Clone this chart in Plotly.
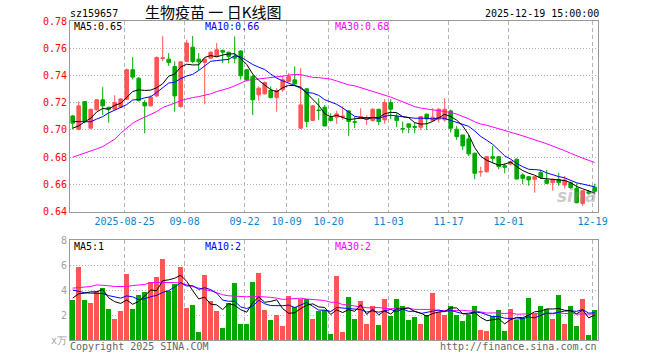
import pandas as pd
import plotly.graph_objects as go

# ---------------- data ----------------
dates = [d.strftime("%Y-%m-%d") for d in pd.bdate_range("2025-08-12", "2025-12-19")
         if not ("2025-10-01" <= d.strftime("%Y-%m-%d") <= "2025-10-08")]

opens = [0.7103, 0.7005, 0.7209, 0.7013, 0.7148, 0.7221, 0.7167, 0.7152, 0.7167, 0.7226,
         0.7442, 0.7380, 0.7201, 0.7177, 0.7250, 0.7525, 0.7520, 0.7466, 0.7172, 0.7503,
         0.7608, 0.7520, 0.7496, 0.7527, 0.7540, 0.7584, 0.7571, 0.7540, 0.7580, 0.7442,
         0.7393, 0.7258, 0.7265, 0.7290, 0.7238, 0.7295, 0.7356, 0.7368, 0.7013, 0.7302,
         0.7070, 0.7147, 0.7167, 0.7094, 0.7094, 0.7094, 0.7140, 0.7060, 0.7084, 0.7077,
         0.7069, 0.7152, 0.7074, 0.7201, 0.7098, 0.7010, 0.7045, 0.7025, 0.7020, 0.7116,
         0.7069, 0.7079, 0.7074, 0.7140, 0.7005, 0.6963, 0.6934, 0.6829, 0.6692, 0.6694,
         0.6804, 0.6804, 0.6738, 0.6750, 0.6785, 0.6670, 0.6657, 0.6638, 0.6687, 0.6633,
         0.6613, 0.6637, 0.6596, 0.6613, 0.6572, 0.6461, 0.6547, 0.6580]
highs = [0.7110, 0.7209, 0.7212, 0.7157, 0.7228, 0.7314, 0.7170, 0.7255, 0.7233, 0.7451,
         0.7535, 0.7388, 0.7220, 0.7255, 0.7540, 0.7690, 0.7564, 0.7503, 0.7505, 0.7662,
         0.7690, 0.7564, 0.7530, 0.7577, 0.7638, 0.7590, 0.7575, 0.7687, 0.7585, 0.7445,
         0.7405, 0.7320, 0.7356, 0.7320, 0.7307, 0.7398, 0.7417, 0.7466, 0.7454, 0.7307,
         0.7184, 0.7233, 0.7184, 0.7123, 0.7140, 0.7172, 0.7145, 0.7098, 0.7160, 0.7109,
         0.7160, 0.7155, 0.7226, 0.7226, 0.7123, 0.7062, 0.7045, 0.7054, 0.7103, 0.7120,
         0.7160, 0.7160, 0.7233, 0.7150, 0.7030, 0.6965, 0.6963, 0.6835, 0.6731, 0.6809,
         0.6883, 0.6809, 0.6755, 0.6775, 0.6792, 0.6682, 0.6662, 0.6662, 0.6706, 0.6706,
         0.6645, 0.6686, 0.6662, 0.6620, 0.6608, 0.6560, 0.6560, 0.6606]
lows = [0.7005, 0.6998, 0.7050, 0.7005, 0.7143, 0.7110, 0.7054, 0.7148, 0.7160, 0.7221,
        0.7370, 0.7208, 0.6976, 0.7172, 0.7240, 0.7505, 0.7470, 0.7135, 0.7162, 0.7498,
        0.7490, 0.7440, 0.7189, 0.7520, 0.7535, 0.7490, 0.7490, 0.7490, 0.7370, 0.7356,
        0.7110, 0.7216, 0.7260, 0.7233, 0.7135, 0.7280, 0.7350, 0.7330, 0.7008, 0.7020,
        0.7065, 0.7074, 0.7025, 0.7062, 0.7045, 0.7074, 0.6956, 0.7013, 0.7080, 0.7035,
        0.7062, 0.7035, 0.7045, 0.7079, 0.7020, 0.6976, 0.6976, 0.6976, 0.7000, 0.7000,
        0.7062, 0.7054, 0.7062, 0.6981, 0.6927, 0.6853, 0.6809, 0.6638, 0.6657, 0.6687,
        0.6755, 0.6711, 0.6682, 0.6740, 0.6638, 0.6603, 0.6591, 0.6540, 0.6640, 0.6603,
        0.6554, 0.6590, 0.6570, 0.6570, 0.6461, 0.6442, 0.6525, 0.6530]
closes = [0.7050, 0.7177, 0.7062, 0.7152, 0.7221, 0.7177, 0.7152, 0.7201, 0.7228, 0.7442,
          0.7388, 0.7216, 0.7177, 0.7240, 0.7532, 0.7530, 0.7496, 0.7250, 0.7500, 0.7638,
          0.7503, 0.7500, 0.7520, 0.7571, 0.7589, 0.7571, 0.7540, 0.7527, 0.7398, 0.7368,
          0.7221, 0.7307, 0.7348, 0.7238, 0.7290, 0.7368, 0.7393, 0.7339, 0.7184, 0.7062,
          0.7177, 0.7143, 0.7030, 0.7070, 0.7118, 0.7101, 0.7062, 0.7057, 0.7098, 0.7081,
          0.7152, 0.7062, 0.7201, 0.7152, 0.7069, 0.7008, 0.7020, 0.7020, 0.7098, 0.7081,
          0.7094, 0.7152, 0.7152, 0.7013, 0.6951, 0.6883, 0.6824, 0.6682, 0.6694, 0.6804,
          0.6792, 0.6731, 0.6726, 0.6768, 0.6640, 0.6645, 0.6633, 0.6657, 0.6652, 0.6608,
          0.6637, 0.6613, 0.6633, 0.6576, 0.6466, 0.6554, 0.6535, 0.6550]
volumes = [3.22, 5.88, 3.22, 3.00, 3.94, 4.20, 2.50, 1.70, 2.29, 5.32,
           2.50, 3.62, 3.88, 4.68, 5.05, 6.52, 3.94, 4.52, 5.88, 2.60,
           2.82, 0.61, 5.24, 3.09, 2.29, 0.93, 3.00, 4.60, 1.30, 1.30,
           4.68, 5.40, 2.42, 1.62, 1.97, 1.14, 3.54, 2.63, 3.30, 3.30,
           1.70, 2.29, 2.42, 0.50, 5.16, 0.61, 3.48, 1.70, 3.14, 1.30,
           2.69, 1.22, 3.30, 1.89, 3.30, 2.74, 1.62, 1.84, 1.30, 2.02,
           3.80, 2.25, 2.02, 2.74, 2.02, 1.49, 2.02, 2.74, 0.77, 0.69,
           1.89, 2.42, 0.69, 2.50, 1.57, 1.76, 3.40, 2.05, 2.74, 2.50,
           1.70, 3.62, 1.30, 2.69, 1.14, 3.30, 0.43, 2.42]

# moving-average values before a full window is available
price_ma5_head = [0.7013, 0.7030, 0.7060, 0.7086]
price_ma10_head = [0.7062, 0.7060, 0.7058, 0.7060, 0.7080, 0.7098, 0.7125, 0.7147, 0.7165]
price_ma30_head = [0.6800, 0.6814, 0.6829, 0.6846, 0.6861, 0.6878, 0.6902, 0.6932, 0.6976, 0.7013,
                   0.7050, 0.7074, 0.7094, 0.7111, 0.7135, 0.7165, 0.7179, 0.7197, 0.7216, 0.7228,
                   0.7238, 0.7245, 0.7253, 0.7265, 0.7282, 0.7294, 0.7307, 0.7324, 0.7344]
vol_ma5_head = [3.35, 3.70, 3.75, 3.85]
vol_ma10_head = [4.00, 3.88, 3.78, 3.75, 3.75, 3.72, 3.55, 3.42, 3.35]
vol_ma30_head = [4.15, 4.20, 4.23, 4.28, 4.41, 4.39, 4.34, 4.28, 4.28, 4.28,
                 4.36, 4.39, 4.44, 4.60, 4.60, 4.63, 4.60, 4.60, 4.55, 4.41,
                 4.28, 4.15, 4.02, 3.94, 3.75, 3.62, 3.54, 3.51, 3.48]

tick_dates = ["2025-08-25", "2025-09-08", "2025-09-22", "2025-10-09", "2025-10-20",
              "2025-11-03", "2025-11-17", "2025-12-01", "2025-12-19"]
tick_labels = ["2025-08-25", "09-08", "09-22", "10-09", "10-20", "11-03", "11-17", "12-01", "12-19"]
price_ticks = [0.64, 0.66, 0.68, 0.70, 0.72, 0.74, 0.76, 0.78]
vol_ticks = [0, 2, 4, 6, 8]
vol_tick_labels = ["x万", "2", "4", "6", "8"]


def moving_avg(vals, n, head):
    s = pd.Series(vals).rolling(n).mean().tolist()
    return list(head) + s[len(head):]


RED = "#ff5555"
GREEN = "#00a800"
MONO = "DejaVu Sans Mono, Liberation Mono, monospace"

idx = list(range(len(closes)))
pm5 = moving_avg(closes, 5, price_ma5_head)
pm10 = moving_avg(closes, 10, price_ma10_head)
pm30 = moving_avg(closes, 30, price_ma30_head)
vm5 = moving_avg(volumes, 5, vol_ma5_head)
vm10 = moving_avg(volumes, 10, vol_ma10_head)
vm30 = moving_avg(volumes, 30, vol_ma30_head)
vcolors = [RED if c >= o else GREEN for o, c in zip(opens, closes)]

fig = go.Figure()
fig.add_trace(go.Candlestick(
    x=idx, open=opens, high=highs, low=lows, close=closes,
    increasing=dict(line=dict(color=RED, width=1), fillcolor=RED),
    decreasing=dict(line=dict(color=GREEN, width=1), fillcolor=GREEN),
    whiskerwidth=0, xaxis="x", yaxis="y", hoverinfo="skip"))
for ys, col in [(pm30, "#ff00ff"), (pm10, "#0000ff"), (pm5, "#000000")]:
    fig.add_trace(go.Scatter(x=idx, y=ys, mode="lines", line=dict(color=col, width=1),
                             xaxis="x", yaxis="y", hoverinfo="skip"))
fig.add_trace(go.Bar(x=idx, y=volumes, marker=dict(color=vcolors, line=dict(width=0)),
                     width=0.82, xaxis="x2", yaxis="y2", hoverinfo="skip"))
for ys, col in [(vm30, "#ff00ff"), (vm10, "#0000ff"), (vm5, "#000000")]:
    fig.add_trace(go.Scatter(x=idx, y=ys, mode="lines", line=dict(color=col, width=1),
                             xaxis="x2", yaxis="y2", hoverinfo="skip"))

tickpos = [dates.index(d) - 0.35 for d in tick_dates]

W, H = 660, 360
L, R, T, B = 70, 598, 21, 340

grid_x = dict(range=[-0.45, 87.55], tickvals=tickpos, showgrid=True, gridcolor="#b4b4b4",
              griddash="4px,3px", gridwidth=1, showline=True, mirror=True, linecolor="#999999",
              linewidth=1, zeroline=False, ticks="", fixedrange=True, automargin=False)

fig.update_layout(
    width=W, height=H, margin=dict(l=L, r=W - R, t=T, b=H - B, autoexpand=False),
    paper_bgcolor="white", plot_bgcolor="white", showlegend=False, bargap=0, boxgap=0.15,
    xaxis=dict(**grid_x, domain=[0, 1], anchor="y", ticktext=tick_labels,
               tickfont=dict(family=MONO, size=10, color="#0a84d0"),
               rangeslider=dict(visible=False)),
    xaxis2=dict(**grid_x, domain=[0, 1], anchor="y2", matches="x", showticklabels=False),
    yaxis=dict(domain=[(B - 211.7) / (B - T), 1], range=[0.64, 0.78], tickvals=price_ticks,
               ticktext=["%.2f" % v for v in price_ticks], showgrid=True, gridcolor="#b4b4b4",
               griddash="1px,2px", showline=True, mirror=True, linecolor="#999999", zeroline=False,
               tickfont=dict(family=MONO, size=10, color="#ff0000"), ticks="", fixedrange=True,
               automargin=False),
    yaxis2=dict(domain=[0, (B - 240) / (B - T)], range=[0, 8], tickvals=vol_ticks,
                ticktext=vol_tick_labels, showgrid=True, gridcolor="#b4b4b4", griddash="1px,2px",
                showline=True, mirror=True, linecolor="#999999", zeroline=False,
                tickfont=dict(family=MONO, size=10, color="#a0a0a0"), ticks="", fixedrange=True,
                automargin=False),
)


def px(x):
    return (x - L) / (R - L)


def py(y):
    return (B - y) / (B - T)


def note(text, x, y, color, size=10, xanchor="left", family=MONO):
    fig.add_annotation(text=text, x=px(x), y=py(y), xref="paper", yref="paper",
                       xanchor=xanchor, yanchor="middle", showarrow=False, borderpad=0,
                       font=dict(family=family, size=size, color=color))


note("sz159657", 69, 13, "#000000")
note("生物疫苗 一 日K线图", 213, 12, "#000000", size=15, xanchor="center",
     family="Noto Sans CJK SC")
note("2025-12-19 15:00:00", 600, 13, "#000000", xanchor="right")
note("MA5:%.2f" % pm5[-1], 73, 26.5, "#000000")
note("MA10:%.2f" % pm10[-1], 204, 26.5, "#0000ff")
note("MA30:0.68", 334, 26.5, "#ff00ff")
note("MA5:1", 73, 246.5, "#000000")
note("MA10:2", 204, 246.5, "#0000ff")
note("MA30:2", 334, 246.5, "#ff00ff")
note("Copyright 2025 SINA.COM", 69, 346.5, "#666666")
note("http://finance.sina.com.cn", 598, 346.5, "#666666", xanchor="right")
fig.add_annotation(text="<b><i>sina</i></b>", x=px(598), y=py(196), xref="paper", yref="paper",
                   xanchor="right", yanchor="middle", showarrow=False, borderpad=0,
                   font=dict(family="DejaVu Sans", size=17, color="rgba(140,140,140,0.45)"))

fig.write_html("out.html", config={"displayModeBar": False, "staticPlot": True},
               post_script="document.body.style.margin='0';")
